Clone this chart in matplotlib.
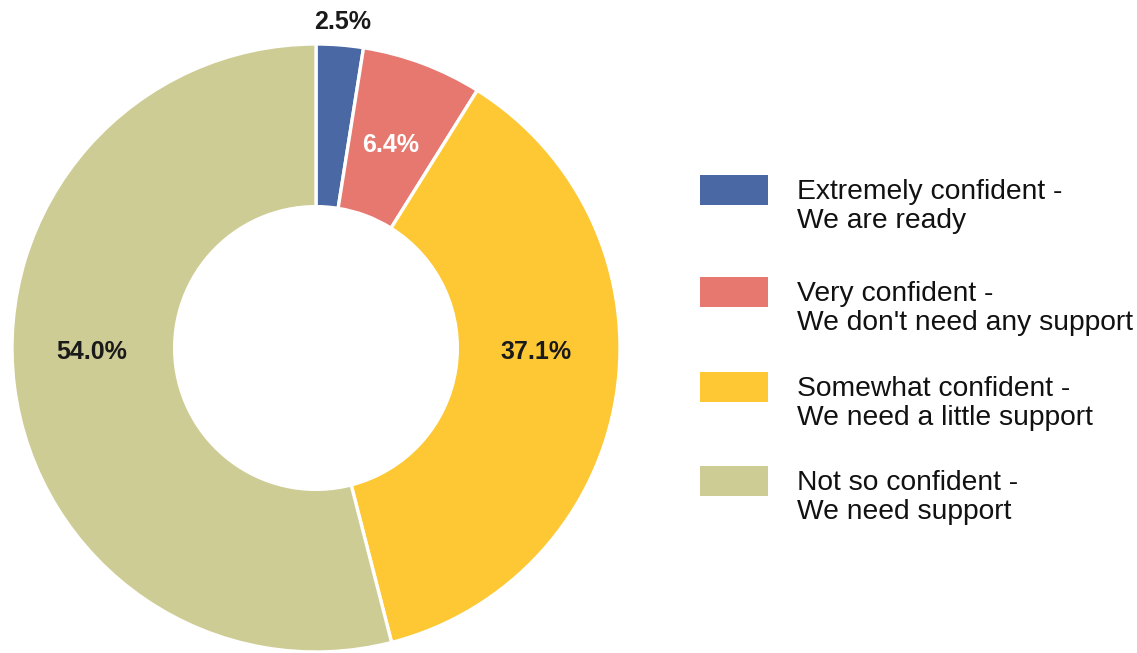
import matplotlib.pyplot as plt
from matplotlib.patches import Rectangle

plt.rcParams['font.family'] = ['Liberation Sans', 'DejaVu Sans']

# confidence survey results (%)
labels = ['Extremely confident -\nWe are ready',
          'Very confident -\nWe don\'t need any support',
          'Somewhat confident -\nWe need a little support',
          'Not so confident -\nWe need support']
shares = [2.5, 6.4, 37.1, 54.0]
colors = ['#4a68a3', '#e67870', '#fdc833', '#cecc95']

# where the percentage text goes (pie data coords) and its colour
text_xy = [(0.089, 1.072), (0.247, 0.668), (0.724, -0.013), (-0.737, -0.013)]
text_colors = ['#1a1a1a', 'white', '#1a1a1a', '#1a1a1a']

fig = plt.figure(figsize=(11.37, 6.53), dpi=100)

W, H = 1137, 653
cx, cy, r = 316, 348, 304
ax = fig.add_axes([(cx - r) / W, (H - cy - r) / H, 2 * r / W, 2 * r / H])
ax.pie(shares, colors=colors, startangle=90, counterclock=False,
       wedgeprops=dict(width=0.535, edgecolor='white', linewidth=2.4))
ax.set_xlim(-1, 1)
ax.set_ylim(-1, 1)
ax.set_aspect('equal')
ax.axis('off')

for v, (x, y), c in zip(shares, text_xy, text_colors):
    ax.text(x, y, f'{v:.1f}%', ha='center', va='center', fontsize=18,
            fontweight='bold', color=c, clip_on=False)

# legend drawn by hand so the swatch lines up with the first text line
legend_y = [190, 292, 387, 481]
for lab, col, y in zip(labels, colors, legend_y):
    fig.patches.append(Rectangle((700 / W, (H - y - 15) / H), 68 / W, 30 / H,
                                 transform=fig.transFigure, facecolor=col,
                                 edgecolor='none'))
    fig.text(797 / W, (H - y + 11) / H, lab, ha='left', va='top',
             fontsize=20.3, color='#111111', linespacing=1.14)

fig.savefig('out.png', dpi=100)
